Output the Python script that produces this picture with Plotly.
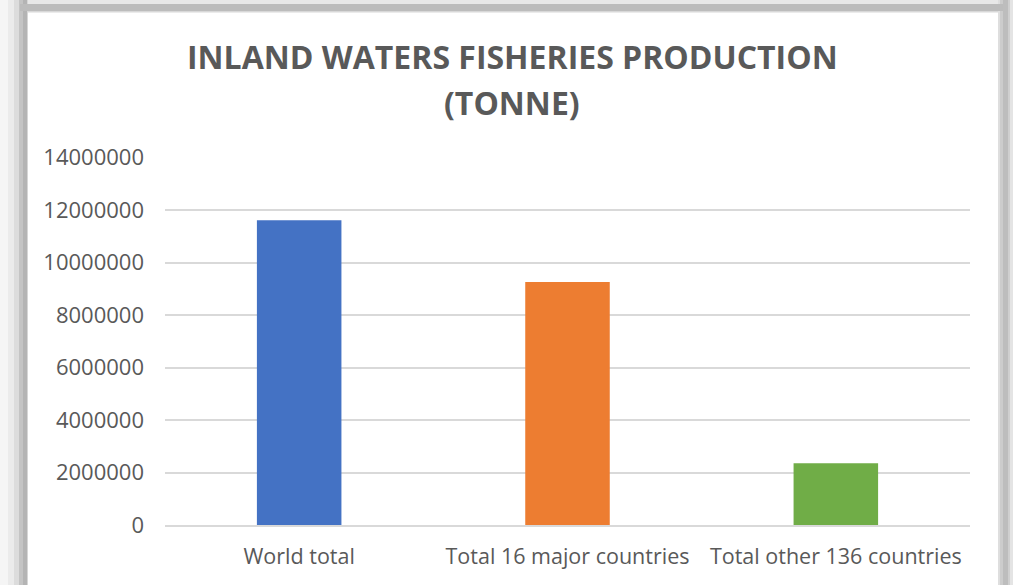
import plotly.graph_objects as go

categories = ["World total", "Total 16 major countries", "Total other 136 countries"]
values = [11610000, 9255000, 2350000]
colors = ["#4472C4", "#ED7D31", "#70AD47"]
tick_vals = [0, 2000000, 4000000, 6000000, 8000000, 10000000, 12000000, 14000000]
tick_text = [str(v) for v in tick_vals]
title_line1 = "INLAND WATERS FISHERIES PRODUCTION"
title_line2 = "(TONNE)"

W, H = 1013, 585
L, R, T, B = 165, 43, 157, 60
PW, PH = W - L - R, H - T - B

def px(x):
    return (x - L) / PW

def py(y):
    return (H - B - y) / PH

fig = go.Figure()
fig.add_trace(go.Bar(
    x=categories, y=values, marker=dict(color=colors, line=dict(width=0)),
    width=0.315, hoverinfo="skip"))

shapes = []
def rect(x0, y0, x1, y1, col):
    shapes.append(dict(type="rect", xref="paper", yref="paper",
                       x0=px(x0), x1=px(x1), y0=py(y1), y1=py(y0),
                       fillcolor=col, line=dict(width=0), layer="below"))

# frame shadow (decorative)
rect(0, 0, 1013, 4, "#e8e8e8")
for x0, x1, c in [(0, 8, "#f5f5f5"), (8, 14, "#ebebeb"), (14, 19, "#dcdcdc"),
                  (19, 23, "#c4c4c4"), (23, 27, "#b4b4b4"), (27, 28, "#d6d6d6")]:
    rect(x0, 0, x1, 585, c)
for x0, x1, c in [(998, 1000, "#dedede"), (1000, 1003, "#cccccc"), (1003, 1008, "#bdbdbd"),
                  (1008, 1010, "#cfcfcf"), (1010, 1013, "#e4e4e4")]:
    rect(x0, 0, x1, 585, c)
rect(20, 4, 1003, 11, "#bcbcbc")
rect(28, 11, 998, 12.5, "#d8d8d8")

fig.update_layout(
    width=W, height=H,
    margin=dict(l=L, r=R, t=T, b=B, autoexpand=False),
    paper_bgcolor="white", plot_bgcolor="white",
    showlegend=False,
    shapes=shapes,
    bargap=0.685,
    font=dict(family="Open Sans", color="#595959"),
    xaxis=dict(showgrid=False, zeroline=False, showline=True, linecolor="#d9d9d9",
               linewidth=2, ticks="", tickfont=dict(size=21.5, color="#595959"),
               ticklabelstandoff=11, fixedrange=True),
    yaxis=dict(range=[0, 14020000], tickvals=tick_vals, ticktext=tick_text,
               showgrid=True, gridcolor="#d9d9d9", gridwidth=1.5, zeroline=False,
               showline=False, ticks="", tickfont=dict(size=22, color="#595959"),
               ticklabelstandoff=20, fixedrange=True),
    annotations=[
        dict(text=f"<b>{title_line1}</b>", xref="paper", yref="paper",
             x=px(512), y=py(56), showarrow=False, xanchor="center", yanchor="middle",
             font=dict(size=32, color="#595959", family="Open Sans")),
        dict(text=f"<b>{title_line2}</b>", xref="paper", yref="paper",
             x=px(512), y=py(102), showarrow=False, xanchor="center", yanchor="middle",
             font=dict(size=32, color="#595959", family="Open Sans")),
    ],
)

fig.write_html("out.html", config={"displayModeBar": False},
               post_script="document.body.style.margin='0';document.body.style.overflow='hidden';")
